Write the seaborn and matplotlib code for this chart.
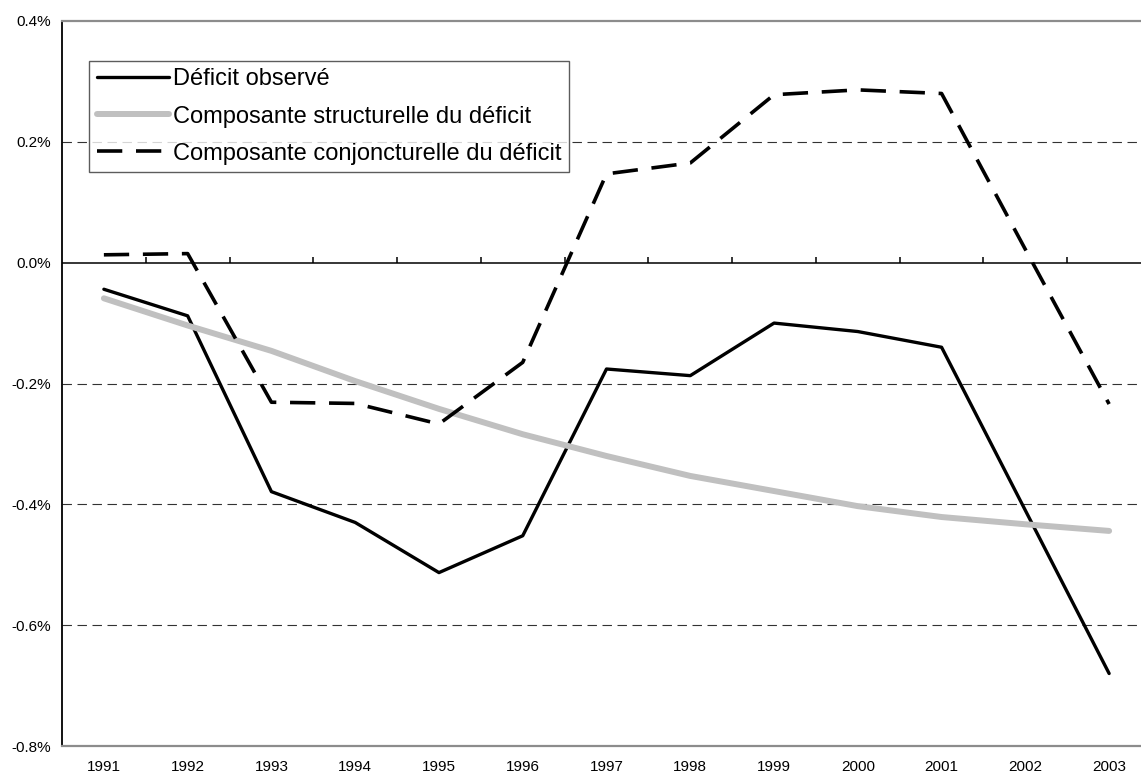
import numpy as np
import pandas as pd
import matplotlib
matplotlib.use("Agg")
import matplotlib.pyplot as plt
import seaborn as sns

# Data (in % points)
years = list(range(1991, 2004))
deficit_observe = [-0.044, -0.088, -0.379, -0.430, -0.513, -0.452, -0.176,
                   -0.187, -0.100, -0.114, -0.140, -0.410, -0.680]
comp_structurelle = [-0.059, -0.104, -0.146, -0.196, -0.242, -0.284, -0.320,
                     -0.353, -0.378, -0.403, -0.421, -0.433, -0.444]
comp_conjoncturelle = [0.013, 0.015, -0.231, -0.233, -0.267, -0.165, 0.147,
                       0.165, 0.278, 0.286, 0.280, 0.022, -0.234]
series_names = ["Déficit observé",
                "Composante structurelle du déficit",
                "Composante conjoncturelle du déficit"]
y_ticks = [-0.8, -0.6, -0.4, -0.2, 0.0, 0.2, 0.4]

df = pd.DataFrame({
    "annee": years * 3,
    "valeur": deficit_observe + comp_structurelle + comp_conjoncturelle,
    "serie": [series_names[0]] * 13 + [series_names[1]] * 13 + [series_names[2]] * 13,
})

sns.set_style("white")
plt.rcParams["font.family"] = ["Liberation Sans", "DejaVu Sans"]
plt.rcParams["text.color"] = "black"
plt.rcParams["xtick.color"] = "black"
plt.rcParams["ytick.color"] = "black"

fig = plt.figure(figsize=(11.41, 7.74), dpi=100)
ax = fig.add_axes([62 / 1141, 28 / 774, (1151 - 62) / 1141, (746 - 21) / 774])

styles = {
    series_names[0]: dict(color="black", lw=2.4, ls="-"),
    series_names[1]: dict(color="#c0c0c0", lw=4.3, ls="-"),
    series_names[2]: dict(color="black", lw=2.6, ls=(0, (7, 3.8))),
}
for name in series_names:
    st = styles[name]
    sns.lineplot(data=df[df["serie"] == name], x="annee", y="valeur", ax=ax,
                 color=st["color"], linewidth=st["lw"], linestyle=st["ls"],
                 label=name, zorder=3)

# grid lines
for v in y_ticks[1:-1]:
    if v == 0:
        ax.axhline(v, color="black", lw=1.1, zorder=2)
    else:
        ax.axhline(v, color="#333333", lw=0.8, ls=(0, (8.5, 5)), zorder=1)

# small ticks on the zero line between categories
bounds = np.array(years) + 0.5
ax.vlines(bounds, 0, 0.009, color="black", lw=1.1, zorder=2)

ax.set_xlim(1990.5, 2003.5)
ax.set_ylim(-0.8, 0.4)
ax.set_xticks(years)
ax.set_xticklabels([str(y) for y in years], fontsize=11)
ax.set_yticks(y_ticks)
ax.set_yticklabels([f"{v:.1f}%" for v in y_ticks], fontsize=11)
ax.tick_params(axis="both", length=0)
ax.tick_params(axis="x", pad=10)
ax.tick_params(axis="y", pad=8)
ax.set_xlabel("")
ax.set_ylabel("")

for s in ["top", "bottom"]:
    ax.spines[s].set_color("#8c8c8c")
    ax.spines[s].set_linewidth(1.6)
ax.spines["left"].set_color("black")
ax.spines["left"].set_linewidth(1.3)
ax.spines["right"].set_visible(False)

leg = ax.legend(loc="upper left", bbox_to_anchor=(0.0248, 0.945), fontsize=17,
                frameon=True, fancybox=False, edgecolor="#333333",
                borderpad=0.32, labelspacing=0.64, handlelength=3.05,
                handletextpad=0.2, borderaxespad=0)
leg.get_frame().set_linewidth(1.0)

fig.savefig("out.png", dpi=100)
